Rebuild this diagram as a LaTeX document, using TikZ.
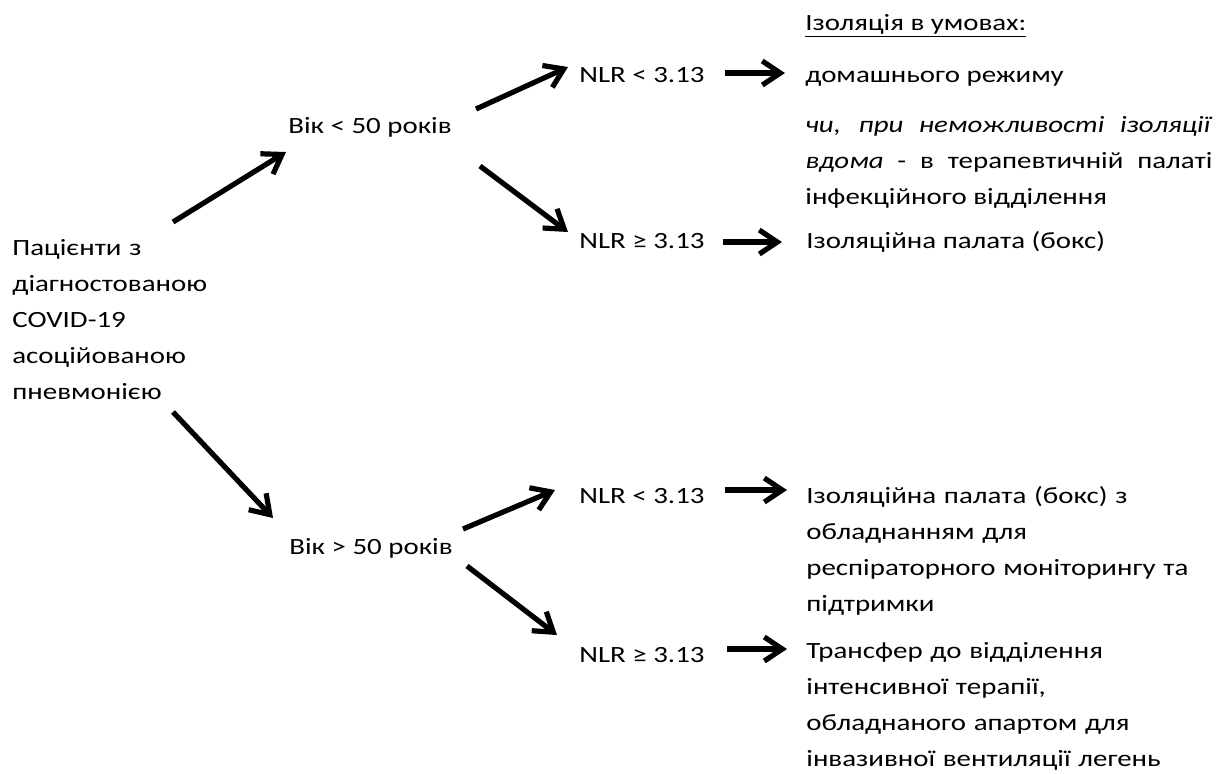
\documentclass[tikz,border=0pt]{standalone}
\usepackage{fontspec}
\setmainfont{Carlito}[FakeStretch=1.24]
\usetikzlibrary{arrows.meta}
\tikzset{
  txt/.style={anchor=base west, inner sep=0pt, font=\fontsize{11.65}{18.1}\selectfont},
  txtblock/.style={txt, text width=#1, align=left},
  arr/.style={-{Straight Barb[length=9pt,width=12pt]}, line width=2.6pt},
}

\begin{document}
\begin{tikzpicture}[x=0.5pt, y=-0.5pt]
  \useasboundingbox (0,0) rectangle (1226,773);

  % Patients
  \node[txtblock=110pt] (pat) at (12,255) {Пацієнти з\\діагностованою\\COVID-19\\асоційованою\\пневмонією};

  % Age groups
  \node[txt] (vik1) at (288,133) {Вік < 50 років};
  \node[txt] (vik2) at (289,554) {Вік > 50 років};

  % NLR thresholds
  \node[txt] (nlr1) at (579,82) {NLR < 3.13};
  \node[txt] (nlr2) at (579,248) {NLR ≥ 3.13};
  \node[txt] (nlr3) at (579,503) {NLR < 3.13};
  \node[txt] (nlr4) at (579,662) {NLR ≥ 3.13};

  % Outcomes
  \node[txt] (izol) at (805,30) {\underline{Ізоляція в умовах:}};
  \node[txt] (dom) at (805,82) {домашнього режиму};
  \node[txt, text width=203.5pt, align=justify] (note) at (805,132)
    {\textit{чи, при неможливості ізоляції}\linebreak \textit{вдома} - в терапевтичній палаті\linebreak інфекційного відділення};
  \node[txt] (box) at (806,248) {Ізоляційна палата (бокс)};
  \node[txtblock=205pt] (box2) at (806,503) {Ізоляційна палата (бокс) з\\обладнанням для\\респіраторного моніторингу та\\підтримки};
  \node[txtblock=205pt] (transf) at (806,658) {Трансфер до відділення\\інтенсивної терапії,\\обладнаного апартом для\\інвазивної вентиляції легень};

  % Arrows to age groups
  \draw[arr] ([shift={(161,-33)}]pat.base west) -- ([shift={(-2,19)}]vik1.base west);
  \draw[arr] ([shift={(161,157)}]pat.base west) -- ([shift={(-16,-36)}]vik2.base west);

  % Arrows to NLR
  \draw[arr] ([shift={(188,-24)}]vik1.base west) -- ([shift={(-11,-15)}]nlr1.base west);
  \draw[arr] ([shift={(192,33)}]vik1.base west) -- ([shift={(-11,-16)}]nlr2.base west);
  \draw[arr] ([shift={(174,-25)}]vik2.base west) -- ([shift={(-24,-13)}]nlr3.base west);
  \draw[arr] ([shift={(178,12)}]vik2.base west) -- ([shift={(-22,-27)}]nlr4.base west);

  % Arrows to outcomes
  \draw[arr] ([shift={(146,-9)}]nlr1.base west) -- ([shift={(-20,-9)}]dom.base west);
  \draw[arr] ([shift={(144,-6)}]nlr2.base west) -- ([shift={(-24,-6)}]box.base west);
  \draw[arr] ([shift={(146,-13)}]nlr3.base west) -- ([shift={(-19,-13)}]box2.base west);
  \draw[arr] ([shift={(148,-13)}]nlr4.base west) -- ([shift={(-19,-9)}]transf.base west);
\end{tikzpicture}
\end{document}
